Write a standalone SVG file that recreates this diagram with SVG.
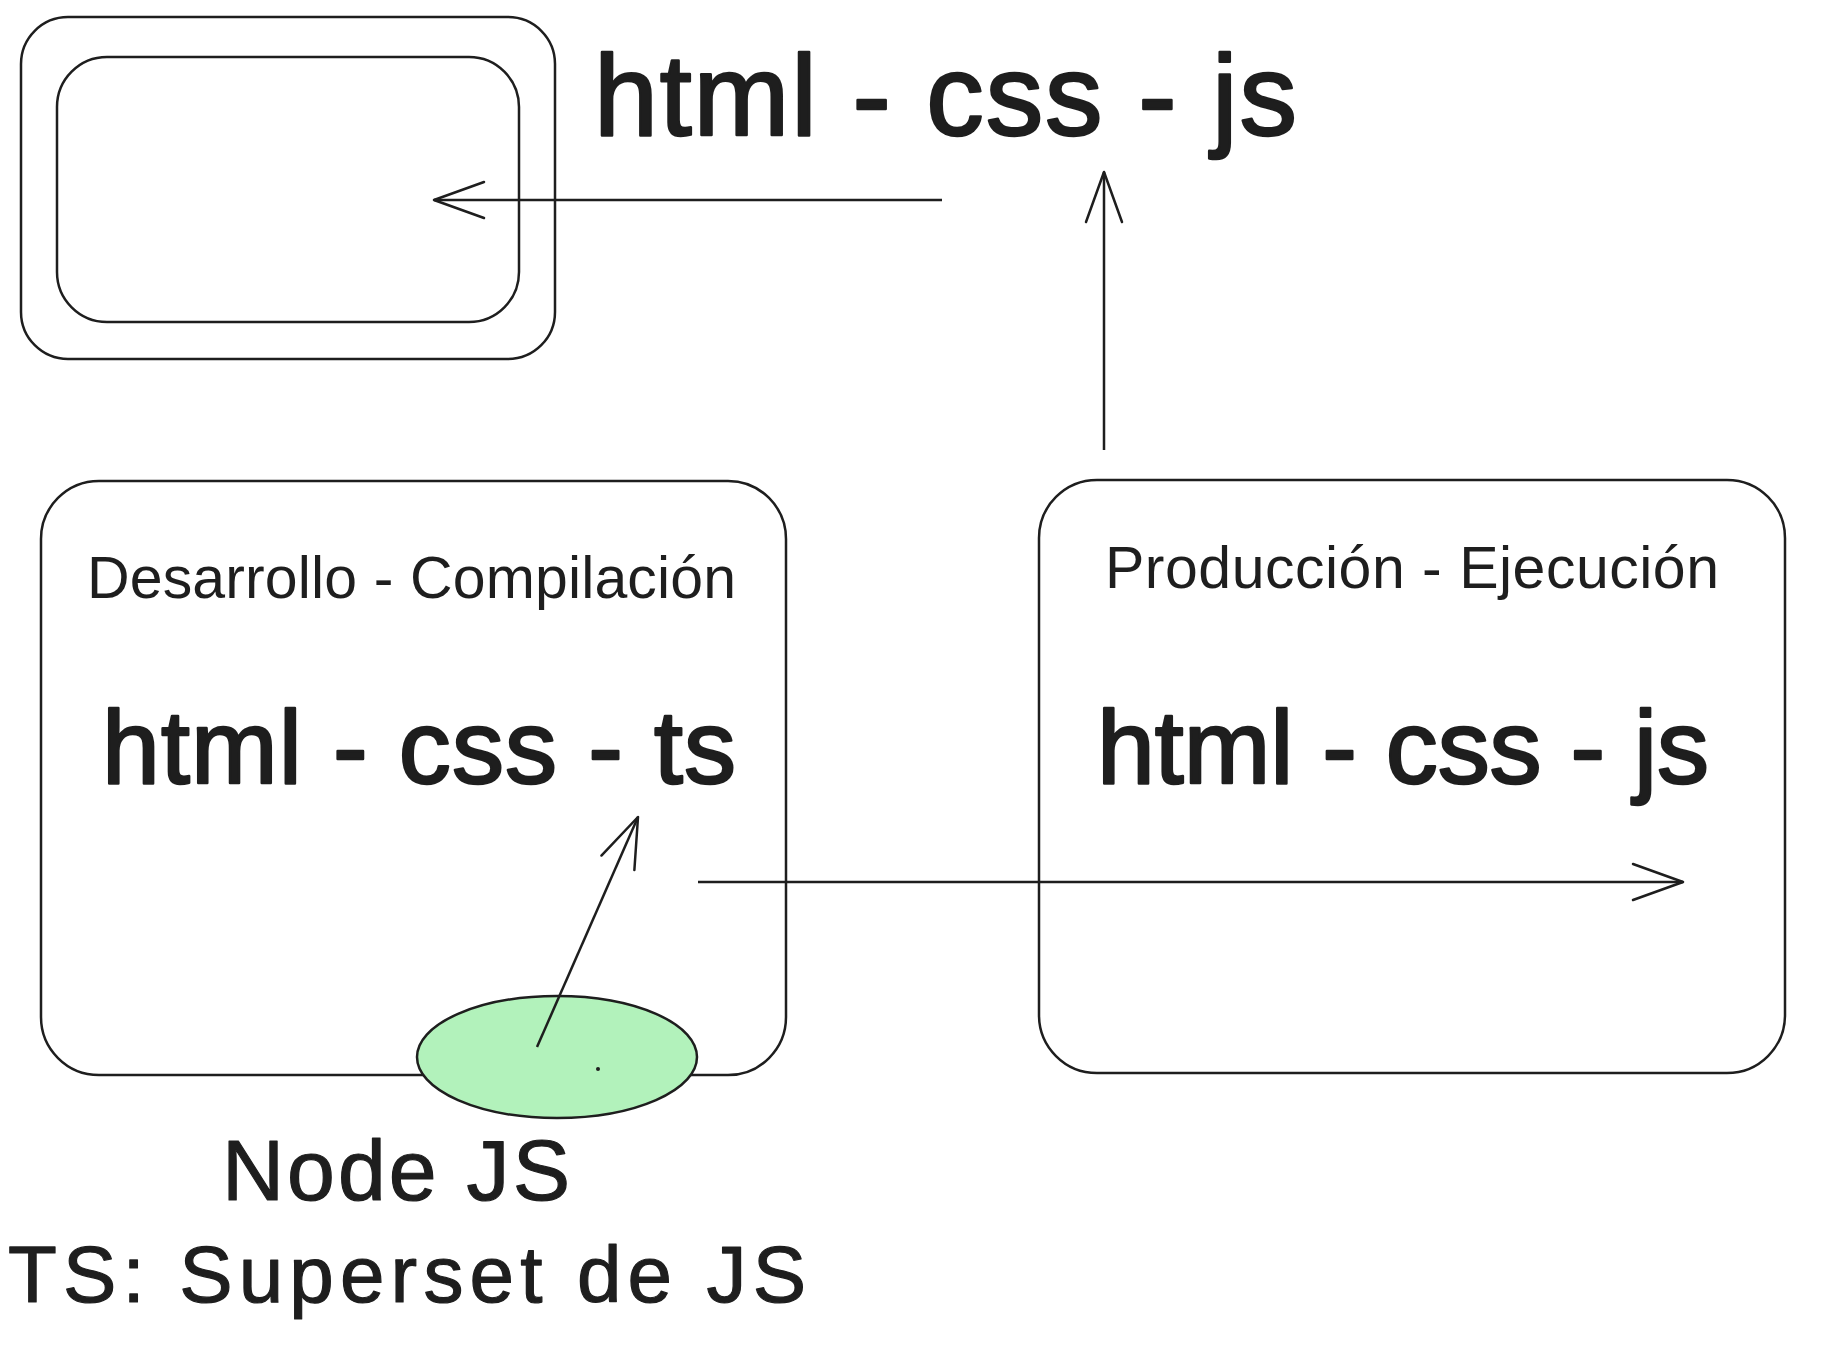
<svg xmlns="http://www.w3.org/2000/svg" width="1828" height="1363" viewBox="0 0 1828 1363">
  <style>
    .box { fill: none; stroke: #1e1e1e; stroke-width: 2.5; }
    .conn { fill: none; stroke: #1e1e1e; stroke-width: 2.5; }
    .txt { font-family: "Liberation Sans", Arial, sans-serif; fill: #1e1e1e; }
    .big { stroke: #1e1e1e; stroke-width: 2.5; stroke-linejoin: round; }
    .mid { stroke: #1e1e1e; stroke-width: 1.2; stroke-linejoin: round; }
  </style>
  <defs>
    <marker id="arrow" viewBox="-56 -24 60 48" markerWidth="60" markerHeight="48" refX="0" refY="0" markerUnits="userSpaceOnUse" orient="auto" overflow="visible">
      <path d="M -50 -18 L 0 0 L -50 18" fill="none" stroke="#1e1e1e" stroke-width="2.5" stroke-linecap="round" stroke-linejoin="round"/>
    </marker>
  </defs>
  <rect width="1828" height="1363" fill="#ffffff"/>

  <g id="screen-outer">
    <rect class="box" x="21" y="17" width="534" height="342" rx="47" ry="47"/>
  </g>
  <g id="screen-inner">
    <rect class="box" x="57" y="57" width="462" height="265" rx="50" ry="50"/>
  </g>

  <g id="top-label">
    <text class="txt big" x="594" y="135" font-size="115" textLength="703">html - css - js</text>
  </g>

  <g id="dev-box">
    <rect class="box" x="41" y="481" width="745" height="594" rx="58" ry="58"/>
    <text class="txt" x="87" y="598" font-size="59" textLength="649">Desarrollo - Compilación</text>
    <text class="txt big" x="102" y="783" font-size="104" textLength="634">html - css - ts</text>
  </g>

  <g id="prod-box">
    <rect class="box" x="1039" y="480" width="746" height="593" rx="58" ry="58"/>
    <text class="txt" x="1105" y="588" font-size="59" textLength="614">Producción - Ejecución</text>
    <text class="txt big" x="1097" y="783" font-size="104" textLength="612">html - css - js</text>
  </g>

  <g id="node-js">
    <ellipse cx="557" cy="1057" rx="140" ry="61" fill="#b2f2bb" stroke="#1e1e1e" stroke-width="2.5"/>
    <circle cx="598" cy="1069" r="2" fill="#1e1e1e"/>
  </g>

  <g id="connectors">
    <line class="conn" x1="942" y1="200" x2="434" y2="200" marker-end="url(#arrow)"/>
    <line class="conn" x1="1104" y1="450" x2="1104" y2="172" marker-end="url(#arrow)"/>
    <line class="conn" x1="698" y1="882" x2="1683" y2="882" marker-end="url(#arrow)"/>
    <line class="conn" x1="537" y1="1047" x2="638" y2="817" marker-end="url(#arrow)"/>
  </g>

  <g id="notes">
    <text class="txt mid" x="222" y="1200" font-size="86" textLength="348">Node JS</text>
    <text class="txt mid" x="8" y="1302" font-size="80" textLength="798">TS: Superset de JS</text>
  </g>
</svg>
